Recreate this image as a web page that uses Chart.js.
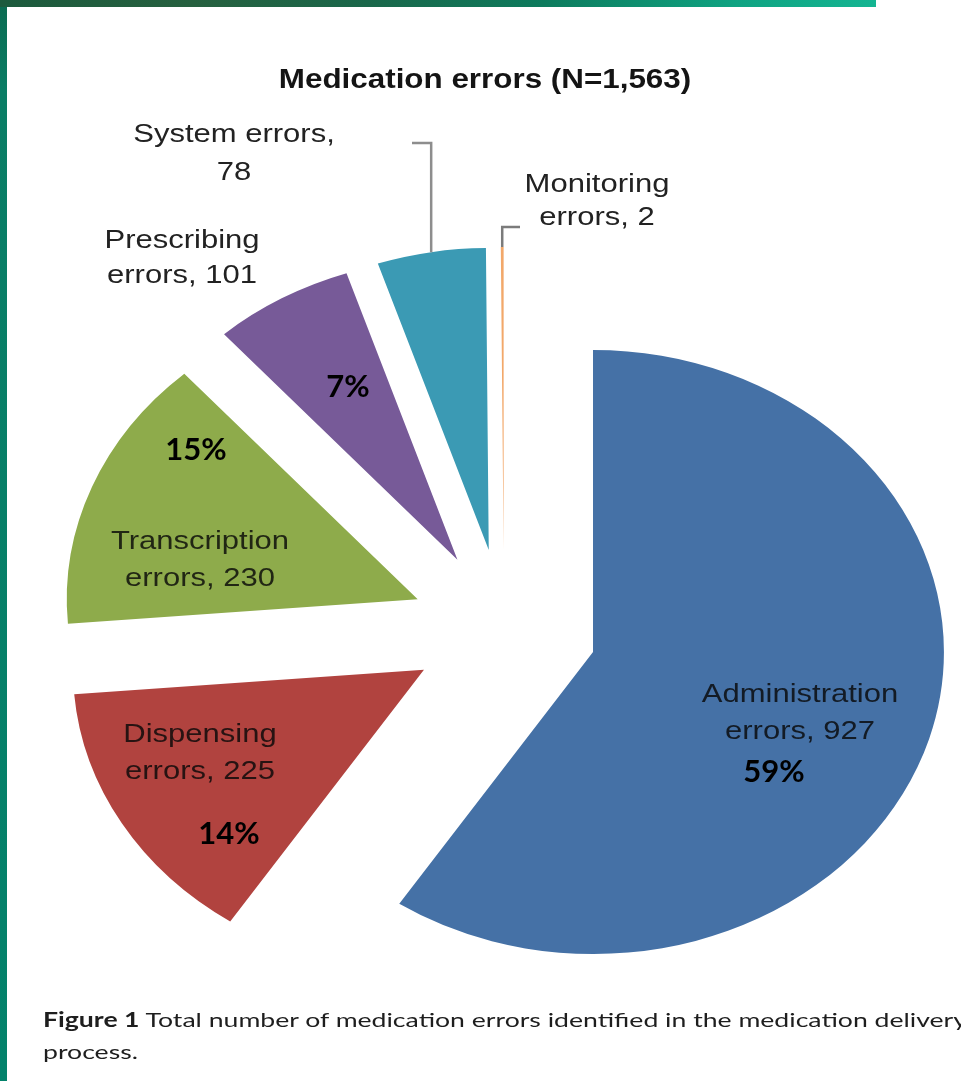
<!DOCTYPE html>
<html>
<head>
<meta charset="utf-8">
<title>Medication errors</title>
<script src="https://cdn.jsdelivr.net/npm/chart.js@4.4.1/dist/chart.umd.min.js"></script>
<style>
  html, body { margin: 0; padding: 0; background: #fff; overflow: hidden; }
  #page { position: relative; width: 961px; height: 1081px; overflow: hidden; background: #fff; }
  #chart { position: absolute; left: 0; top: 0; }
  .edge-left {
    position: absolute; left: 0; top: 0; width: 7px; height: 1081px;
    background: linear-gradient(180deg, #0b6a50 0px, #0a7d65 90px, #03826b 100%);
  }
  .edge-top {
    position: absolute; left: 0; top: 0; width: 876px; height: 7px;
    background: linear-gradient(90deg, #1c5a3d 0%, #26603f 22%, #1a674a 42%, #0d7b5d 62%, #0fa382 84%, #14b592 100%);
  }
  .caption {
    position: absolute; left: 43px; top: 1003px;
    font-family: Lato, "Open Sans", "DejaVu Sans", sans-serif;
    font-size: 20px; line-height: 32px; color: #1e1e1e;
    white-space: nowrap; transform-origin: 0 0;
  }
  .caption b { font-weight: 700; }
</style>
</head>
<body>
<div id="page">
  <canvas id="chart" width="961" height="1081"></canvas>
  <div class="edge-left"></div>
  <div class="edge-top"></div>
  <div class="caption" id="caption"><span id="capLine"><b>Figure 1</b> Total number of medication errors identified in the medication delivery</span><br>process.</div>
</div>
<script>
// ---- data ----
const categories   = ['Administration', 'Dispensing', 'Transcription', 'Prescribing', 'System', 'Monitoring'];
const errorCounts  = [927, 225, 230, 101, 78, 2];
const percentTexts = ['59%', '14%', '15%', '7%', '', ''];
const sliceColors  = ['#4571a6', '#b1433f', '#8eab4b', '#775a98', '#3b9ab4', '#f2a86a'];

// ---- geometry / styling ----
const STRETCH_X = 1.162;   // the figure is drawn wider than tall
const EXPLODE   = 80;      // how far every slice is pulled out from the centre
const RADIUS    = 302;

const FONT_LABEL = '26.7px "Liberation Sans", Arial, sans-serif';
const FONT_TITLE = 'bold 27px "Liberation Sans", Arial, sans-serif';
const FONT_PCT   = 'bold 31px Lato, "Open Sans", sans-serif';
const LINE_GAP   = 37;

// anchor (centre x, first baseline) of each category label
const nameLabelPos = [
  { x: 800, y: 702, inside: true },
  { x: 200, y: 742, inside: true },
  { x: 200, y: 549, inside: true },
  { x: 182, y: 248, gap: 35 },
  { x: 234, y: 142, gap: 38, valueOnOwnLine: true },
  { x: 597, y: 192, gap: 33 }
];
const percentPos = [
  { x: 774, y: 782 }, { x: 229, y: 844 }, { x: 196, y: 460 }, { x: 348, y: 397 }
];
// elbow connectors for the two thin slices
const leaderPos = {
  4: { elbowY: 143, endX: 412, color: '#8d8d8d' },
  5: { elbowY: 227, endX: 520, color: '#7b7b7b' }
};

const total = errorCounts.reduce((a, b) => a + b, 0);

function labelLines(i) {
  const pos = nameLabelPos[i];
  return pos.valueOnOwnLine
    ? [categories[i] + ' errors,', String(errorCounts[i])]
    : [categories[i], 'errors, ' + errorCounts[i]];
}

function stretchedText(ctx, text, x, y) {
  ctx.save();
  ctx.translate(x, y);
  ctx.scale(STRETCH_X, 1);
  ctx.fillText(text, 0, 0);
  ctx.restore();
}

// point on an exploded slice, in page pixels
function slicePoint(arc, angle, r) {
  const mid = (arc.startAngle + arc.endAngle) / 2;
  const ux = Math.cos(mid) * EXPLODE + Math.cos(angle) * r;
  const uy = Math.sin(mid) * EXPLODE + Math.sin(angle) * r;
  return { x: arc.x + ux * STRETCH_X, y: arc.y + uy };
}

const explodedPie = {
  id: 'explodedPie',
  // pull each slice straight out along its bisector, keeping its radius and angle
  afterDatasetUpdate(chart, args) {
    args.meta.data.forEach(arc => {
      if (arc.$exploded) return;
      const baseDraw = arc.draw;
      arc.draw = function (ctx) {
        const mid = (this.startAngle + this.endAngle) / 2;
        ctx.save();
        ctx.translate(Math.cos(mid) * EXPLODE, Math.sin(mid) * EXPLODE);
        baseDraw.call(this, ctx);
        ctx.restore();
      };
      arc.$exploded = true;
    });
  },
  beforeDatasetsDraw(chart) {
    const arc = chart.getDatasetMeta(0).data[0];
    const ctx = chart.ctx;
    ctx.save();
    ctx.translate(arc.x, arc.y);
    ctx.scale(STRETCH_X, 1);
    ctx.translate(-arc.x, -arc.y);
  },
  afterDatasetsDraw(chart) {
    chart.ctx.restore();
  },
  afterDraw(chart) {
    const ctx = chart.ctx;
    const arcs = chart.getDatasetMeta(0).data;

    // title
    ctx.save();
    ctx.fillStyle = '#141414';
    ctx.font = FONT_TITLE;
    ctx.textAlign = 'center';
    ctx.textBaseline = 'alphabetic';
    stretchedText(ctx, 'Medication errors (N=' + total.toLocaleString('en-US') + ')', 485, 88);

    // leader lines
    Object.keys(leaderPos).forEach(k => {
      const i = +k;
      const arc = arcs[i];
      const mid = (arc.startAngle + arc.endAngle) / 2;
      const p = slicePoint(arc, mid, arc.outerRadius);
      const L = leaderPos[i];
      ctx.beginPath();
      ctx.strokeStyle = L.color;
      ctx.lineWidth = 2.5;
      ctx.moveTo(p.x, p.y);
      ctx.lineTo(p.x, L.elbowY);
      ctx.lineTo(L.endX, L.elbowY);
      ctx.stroke();
    });

    // category labels
    ctx.font = FONT_LABEL;
    nameLabelPos.forEach((pos, i) => {
      ctx.fillStyle = pos.inside ? 'rgba(8,8,8,0.82)' : '#222';
      const gap = pos.gap || LINE_GAP;
      labelLines(i).forEach((line, j) => stretchedText(ctx, line, pos.x, pos.y + j * gap));
    });

    // percentage labels
    ctx.font = FONT_PCT;
    ctx.fillStyle = '#000';
    percentPos.forEach((pos, i) => {
      if (percentTexts[i]) ctx.fillText(percentTexts[i], pos.x, pos.y);
    });
    ctx.restore();
  }
};

function build() {
  new Chart(document.getElementById('chart'), {
    type: 'pie',
    data: {
      labels: categories,
      datasets: [{
        data: errorCounts,
        backgroundColor: sliceColors,
        borderWidth: 0,
        offset: 0,
        clip: false
      }]
    },
    options: {
      responsive: false,
      devicePixelRatio: 1,
      animation: false,
      events: [],
      radius: RADIUS,
      layout: { padding: { left: 47, top: 177, right: 0, bottom: 0 } },
      plugins: { legend: { display: false }, tooltip: { enabled: false }, title: { display: false } }
    },
    plugins: [explodedPie]
  });

  // caption set in the same widened proportions
  const cap = document.getElementById('caption');
  const w = document.getElementById('capLine').getBoundingClientRect().width;
  cap.style.transform = 'scaleX(' + (924 / w) + ')';
}

if (document.fonts && document.fonts.load) {
  Promise.all([
    document.fonts.load(FONT_LABEL), document.fonts.load(FONT_TITLE),
    document.fonts.load(FONT_PCT), document.fonts.load('20px Lato'), document.fonts.load('bold 20px Lato')
  ]).then(build, build);
} else {
  build();
}
</script>
</body>
</html>
